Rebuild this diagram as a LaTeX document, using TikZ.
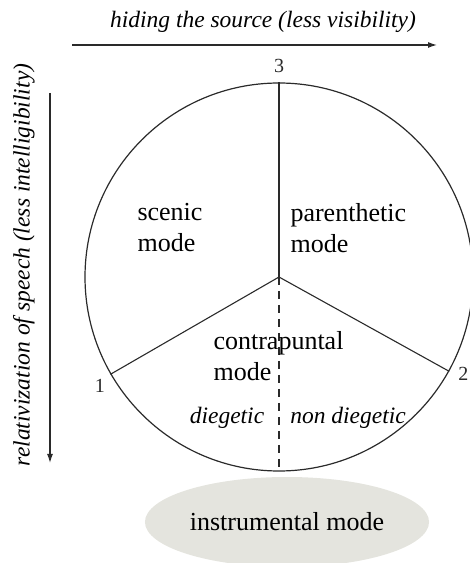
\documentclass[tikz,border=0pt]{standalone}
\usepackage{fontspec}
\setmainfont{Liberation Serif}
\usetikzlibrary{shapes.geometric,arrows.meta,positioning}
\definecolor{ink}{HTML}{2A2A2A}
\definecolor{pale}{HTML}{E4E4DE}

\begin{document}
\begin{tikzpicture}[x=1pt, y=1pt,
    modelbl/.style={font=\fontsize{26}{31}\selectfont, align=left, text=black},
    sidelbl/.style={font=\fontsize{23.5}{28}\selectfont\itshape, text=black},
    numlbl/.style={font=\fontsize{20}{24}\selectfont, text=ink},
    axis/.style={ink, line width=1.2pt, -{Latex[length=9pt,width=6pt]}}]
  \useasboundingbox (0,0) rectangle (470,563);
  % the wheel and its three spokes
  \node[draw=ink, line width=1.2pt, circle, minimum size=388pt, inner sep=0pt] (wheel) at (279,286) {};
  \coordinate (hub) at (wheel.center);
  \foreach \ang/\nm in {90/three, 210/one, -29/two}
    \coordinate (\nm) at (wheel.\ang);
  \foreach \nm in {three, one, two}
    \draw[ink, line width=1.1pt] (hub) -- (\nm);
  \draw[ink, line width=1.1pt, dash pattern=on 8pt off 6pt] (hub) -- (wheel.south);
  \node[numlbl, above=6pt of three] (numthree) {3};
  \node[numlbl, anchor=north east] (numone) at ([xshift=-2pt,yshift=-1pt]one) {1};
  \node[numlbl, anchor=west, inner sep=1pt] (numtwo) at ([xshift=8pt,yshift=-3pt]two) {2};
  % sector labels
  \node[modelbl, anchor=west] (scenic) at (134,335) {scenic\\mode};
  \node[modelbl, anchor=west] (paren) at (287,335) {parenthetic\\mode};
  \node[modelbl, anchor=west] (contra) at (210,207) {contrapuntal\\mode};
  \node[sidelbl] (dieg) at (227,145) {diegetic};
  \node[sidelbl] (nondieg) at (348,145) {non diegetic};
  % instrumental mode below
  \node[ellipse, fill=pale, minimum width=284pt, minimum height=90pt, modelbl] (instr) at (287,41) {instrumental mode};
  % the two axes
  \coordinate (hstart) at (72,518);
  \coordinate (hend) at (437,518);
  \draw[axis] (hstart) -- (hend);
  \node[sidelbl] (hidelbl) at (263,541) {hiding the source (less visibility)};
  \coordinate (vstart) at (50,470);
  \coordinate (vend) at (50,100);
  \draw[axis] (vstart) -- (vend);
  \node[sidelbl, rotate=90] (rellbl) at (24,298) {relativization of speech (less intelligibility)};
\end{tikzpicture}
\end{document}
